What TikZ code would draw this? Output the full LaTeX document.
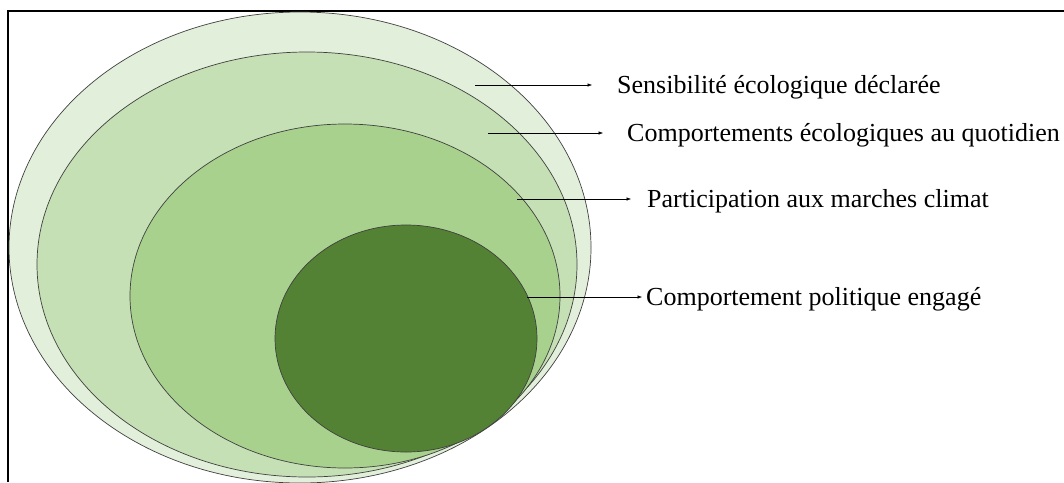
\documentclass[tikz,border=0pt]{standalone}
\usepackage{fontspec}
\setmainfont{Liberation Serif}
\usepackage{xcolor}
\usetikzlibrary{arrows.meta,shapes.geometric}

\definecolor{greenA}{HTML}{E2EFDA}
\definecolor{greenB}{HTML}{C5E0B4}
\definecolor{greenC}{HTML}{A9D18E}
\definecolor{greenD}{HTML}{548235}

\tikzset{
    zone/.style={ellipse, draw=black!75, line width=0.7pt, inner sep=0pt},
    pointer/.style={-{Latex[length=4.5pt,width=3.5pt]}, line width=0.5pt},
    lbl/.style={anchor=base west, inner sep=0pt, font=\fontsize{26}{30}\selectfont}
}

\begin{document}
\begin{tikzpicture}[x=1pt,y=-1pt]
        \useasboundingbox (0,0) rectangle (1064,482);
        \draw[line width=1.4pt] (8,482) -- (8,11) -- (1064,11);
        \node[zone, fill=greenA, minimum width=582pt, minimum height=471pt] (sensib) at (300,247.5) {};
        \node[zone, fill=greenB, minimum width=540pt, minimum height=425pt] (quotid) at (307,264.5) {};
        \node[zone, fill=greenC, minimum width=430pt, minimum height=344pt] (marche) at (345,296) {};
        \node[zone, fill=greenD, minimum width=262pt, minimum height=227pt] (engage) at (406,338.5) {};
        \coordinate (s1) at (475,85);
        \coordinate (e1) at (592,85);
        \coordinate (s2) at (488,133);
        \coordinate (e2) at (603,133);
        \coordinate (s3) at (517,199);
        \coordinate (e3) at (631,199);
        \coordinate (s4) at (527,297);
        \coordinate (e4) at (642,297);
        \draw[pointer] (s1) -- (e1);
        \draw[pointer] (s2) -- (e2);
        \draw[pointer] (s3) -- (e3);
        \draw[pointer] (s4) -- (e4);
        \node[lbl] (t1) at (617,93) {Sensibilité écologique déclarée};
        \node[lbl] (t2) at (627,141) {Comportements écologiques au quotidien};
        \node[lbl] (t3) at (647,207) {Participation aux marches climat};
        \node[lbl] (t4) at (646,305) {Comportement politique engagé};
    \end{tikzpicture}
\end{document}
